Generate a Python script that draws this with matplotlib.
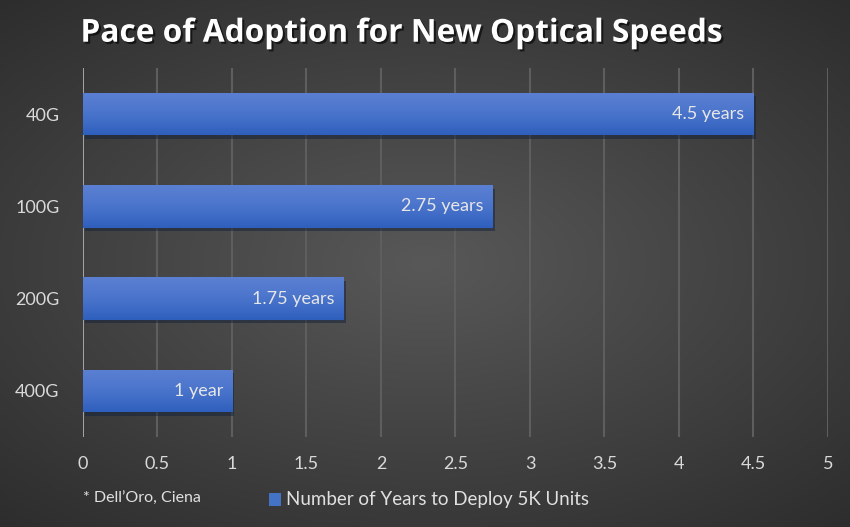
import numpy as np
import matplotlib
matplotlib.use("Agg")
import matplotlib.pyplot as plt
import matplotlib.patheffects as pe
from matplotlib.colors import LinearSegmentedColormap

plt.rcParams['font.family'] = ['Lato', 'DejaVu Sans']

# data
speeds = ['40G', '100G', '200G', '400G']
years = [4.5, 2.75, 1.75, 1]
bar_labels = ['4.5 years', '2.75 years', '1.75 years', '1 year']
x_ticks = [0, 0.5, 1, 1.5, 2, 2.5, 3, 3.5, 4, 4.5, 5]

fig = plt.figure(figsize=(8.5, 5.27), dpi=100)

# radial grey background
bg = fig.add_axes([0, 0, 1, 1], zorder=-10)
yy, xx = np.mgrid[-1:1:300j, -1:1:500j]
r = np.sqrt((xx / 1.1) ** 2 + (yy / 1.0) ** 2)
bg_cmap = LinearSegmentedColormap.from_list('bg', ['#585858', '#2a2a2a'])
bg.imshow(r, cmap=bg_cmap, vmin=0, vmax=1.45, aspect='auto', extent=[0, 1, 0, 1])
bg.axis('off')

ax = fig.add_axes([0.0976, 0.1708, 0.8765, 0.7002])
ax.set_facecolor('none')

pos = np.arange(len(speeds))
bars = ax.barh(pos, years, height=0.46, color='#4472c4', zorder=3,
               path_effects=[pe.SimplePatchShadow(offset=(1.5, -2.5), alpha=0.5), pe.Normal()])

bar_cmap = LinearSegmentedColormap.from_list('bar', ['#2f5fbd', '#4a74cc', '#5b80d2'])
grad = np.linspace(0, 1, 100).reshape(-1, 1)
for b in bars:
    x0, y0, w, h = b.get_x(), b.get_y(), b.get_width(), b.get_height()
    im = ax.imshow(grad, cmap=bar_cmap, aspect='auto', origin='upper',
                   extent=[x0, x0 + w, y0, y0 + h], zorder=4)
    im.set_clip_path(b)

for p, v, lab in zip(pos, years, bar_labels):
    ax.text(v - 0.06, p, lab, ha='right', va='center', color='#e6e6e6',
            fontsize=13, zorder=5)

ax.set_xlim(0, 5)
ax.set_ylim(3.5, -0.5)
ax.set_xticks(x_ticks)
ax.set_xticklabels([f'{t:g}' for t in x_ticks])
ax.set_yticks(pos)
ax.set_yticklabels(speeds)
ax.tick_params(axis='x', colors='#d9d9d9', labelsize=13, length=0, pad=14)
ax.tick_params(axis='y', colors='#d9d9d9', labelsize=13, length=0, pad=17)
ax.grid(axis='x', color='#5e5e5e', linewidth=1.5, zorder=1)
for s in ax.spines.values():
    s.set_visible(False)
ax.axvline(0, color='#b0b0b0', linewidth=1.2, zorder=2)

fig.text(0.472, 0.937, 'Pace of Adoption for New Optical Speeds', ha='center', va='center',
         color='white', fontsize=22.8, fontweight='bold', family=['Open Sans', 'DejaVu Sans'],
         path_effects=[pe.withSimplePatchShadow(offset=(1.5, -1.5), shadow_rgbFace='black', alpha=0.6)])

fig.text(83 / 850, 1 - 499 / 527, "* Dell\u2019Oro, Ciena", ha='left', va='center',
         color='#e0e0e0', fontsize=11.5)
fig.patches.append(plt.Rectangle((269 / 850, 1 - 506 / 527), 12 / 850, 13 / 527,
                                 transform=fig.transFigure, facecolor='#4472c4', figure=fig))
fig.text(286 / 850, 1 - 499 / 527, 'Number of Years to Deploy 5K Units', ha='left', va='center',
         color='#e0e0e0', fontsize=13.5)

fig.savefig('out.png', dpi=100)
